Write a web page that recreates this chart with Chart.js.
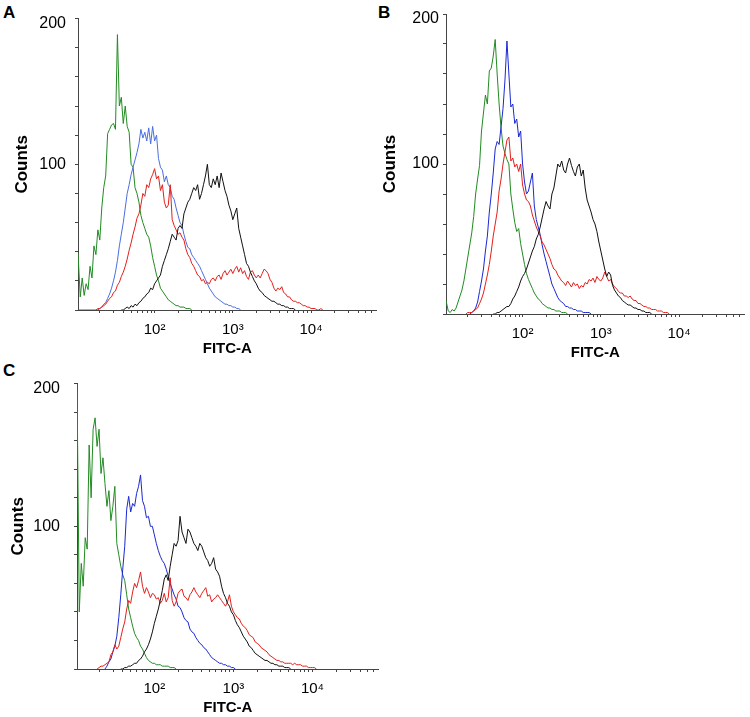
<!DOCTYPE html>
<html lang="en">
<head>
<meta charset="UTF-8">
<title>FITC-A histograms</title>
<script src="https://cdn.jsdelivr.net/npm/chart.js"></script>
<style>
  body { margin: 0; background: #fff; width: 750px; height: 717px; position: relative; overflow: hidden;
         font-family: "Liberation Sans", Arial, sans-serif; }
  canvas { position: absolute; }
  .tag { position: absolute; font-weight: bold; font-size: 17px; line-height: 17px; color: #000; }
</style>
</head>
<body>
<div class="tag" style="left:3px;top:4px">A</div>
<div class="tag" style="left:378px;top:4px">B</div>
<div class="tag" style="left:3px;top:362px">C</div>
<canvas id="panelA" width="380" height="358" style="left:0;top:0"></canvas>
<canvas id="panelB" width="380" height="362" style="left:368px;top:0"></canvas>
<canvas id="panelC" width="382" height="357" style="left:0;top:360px"></canvas>

<script>
    // FITC-A channel centres, 40 per decade; the first one sits on the axis
    const bins = [10.5,
        11.22, 11.89, 12.59, 13.34, 14.13, 14.96, 15.85, 16.79, 17.78, 18.84, 19.95, 21.13, 22.39,
        23.71, 25.12, 26.61, 28.18, 29.85, 31.62, 33.50, 35.48, 37.58, 39.81, 42.17, 44.67, 47.32,
        50.12, 53.09, 56.23, 59.57, 63.10, 66.83, 70.79, 74.99, 79.43, 84.14, 89.13, 94.41, 100,
        105.9, 112.2, 118.9, 125.9, 133.4, 141.3, 149.6, 158.5, 167.9, 177.8, 188.4, 199.5, 211.3,
        223.9, 237.1, 251.2, 266.1, 281.8, 298.5, 316.2, 335.0, 354.8, 375.8, 398.1, 421.7, 446.7,
        473.2, 501.2, 530.9, 562.3, 595.7, 631.0, 668.3, 707.9, 749.9, 794.3, 841.4, 891.3, 944.1, 1000,
        1059, 1122, 1189, 1259, 1334, 1413, 1496, 1585, 1679, 1778, 1884, 1995, 2113,
        2239, 2371, 2512, 2661, 2818, 2985, 3162, 3350, 3548, 3758, 3981, 4217, 4467,
        4732, 5012, 5309, 5623, 5957, 6310, 6683, 7079, 7499, 7943, 8414, 8913, 9441, 10000,
        10590, 11220, 11890, 12590, 13340, 14130, 14960, 15850, 16790, 17780, 18840, 19950,
        21130, 22390, 23710, 25120];

    const xTicks = [20, 30, 40, 50, 60, 70, 80, 90, 100, 200, 300, 400, 500, 600, 700, 800, 900,
        1000, 2000, 3000, 4000, 5000, 6000, 7000, 8000, 9000, 10000, 20000, 30000, 40000, 50000, 60000];
    const xLabels = { 100: '10²', 1000: '10³', 10000: '10⁴' };
    const yTicks = [0, 20, 40, 60, 80, 100, 120, 140, 160, 180, 200];

    // panel A counts per channel (null = no events recorded there)
    const aGreen = [
        39, 9, 22, 10, 18, 14, 30, 22, 44, 38,
        55, 48, 70, 84, 92, 121, 124, 127, 128, 124,
        189, 140, 146, 128, 140, 126, 122, 100, 98, 84,
        80, 74, 65, 60, 56, 52, 50, 44, 36, 30,
        24, 20, 15, 13, 11, 9, 7, 6, 5, 4,
        3, 3, 2, 2, 2, 1, 1, 1, 0];
    const aBlue = [...Array(9).fill(null),
        0, 0, 1, 2, 4, 5, 8, 11, 15, 20, 26,
        34, 44, 52, 60, 70, 80, 86, 93, 98, 103,
        108, 114, 124, 118, 122, 116, 125, 114, 126, 116,
        120, 104, 98, 96, 88, 92, 86, 84, 78, 76,
        70, 65, 60, 58, 52, 47, 43, 42, 38, 36,
        34, 32, 30, 27, 24, 21, 18, 15, 13, 11,
        9, 8, 7, 6, 5, 4, 4, 3, 3, 2,
        2, 1, 1, 0];
    const aRed = [
        0, 0, 0, 0, 0, 0, 0, 0, 0, 0,
        1, 1, 2, 3, 4, 6, 8, 9, 12, 13,
        17, 19, 23, 26, 30, 35, 41, 46, 52, 57,
        63, 66, 72, 80, 78, 86, 84, 90, 93, 97,
        90, 92, 82, 86, 74, 70, 72, 86, 62, 58,
        55, 52, 53, 50, 48, 42, 38, 36, 32, 30,
        27, 24, 23, 20, 21, 18, 19, 18, 21, 22,
        20, 23, 24, 21, 25, 27, 24, 26, 28, 25,
        28, 30, 26, 29, 25, 27, 23, 21, 26, 27,
        24, 22, 24, 22, 25, 28, 27, 25, 21, 19,
        15, 13, 15, 14, 16, 12, 11, 9, 9, 7,
        6, 6, 5, 5, 4, 3, 3, 2, 2, 1,
        1, 1, 0, 0, 1, 0];
    const aBlack = [...Array(22).fill(null),
        0, 0, 1, 2, 1, 3, 2, 4,
        3, 5, 6, 8, 9, 11, 12, 15, 14, 18,
        20, 22, 24, 30, 34, 38, 42, 47, 52, 50,
        48, 56, 58, 56, 66, 70, 74, 76, 80, 84,
        82, 86, 76, 80, 86, 92, 100, 86, 84, 90,
        86, 92, 84, 94, 88, 82, 78, 72, 68, 62,
        66, 70, 56, 50, 44, 38, 32, 30, 26, 23,
        20, 18, 15, 13, 12, 10, 9, 8, 7, 6,
        6, 5, 4, 4, 3, 3, 2, 2, 1, 1,
        1, 0];

    // panel B counts
    const bGreen = [
        9, 2, 1, 3, 2, 4, 8, 12, 16, 22,
        30, 38, 46, 54, 65, 80, 90, 99, 122, 134,
        146, 140, 162, 164, 172, 183, 160, 140, 124, 112,
        107, 103, 100, 80, 70, 61, 55, 57, 47, 40,
        33, 27, 23, 20, 17, 14, 12, 10, 9, 7,
        6, 5, 4, 4, 3, 3, 2, 2, 2, 1,
        1, 1, 0];
    const bBlue = [...Array(12).fill(null),
        0, 1, 2, 4, 8, 15, 22, 30,
        42, 52, 68, 80, 94, 110, 115, 113, 125, 137,
        156, 182, 160, 138, 140, 127, 130, 118, 122, 100,
        88, 80, 82, 88, 94, 72, 63, 58, 53, 46,
        40, 35, 30, 25, 20, 17, 14, 11, 9, 8,
        7, 5, 5, 4, 4, 3, 3, 2, 2, 2,
        1, 1, 1, 1, 0];
    const bRed = [...Array(10).fill(null),
        0, 1, 1, 1, 2, 3, 4, 7, 10, 14,
        20, 26, 33, 42, 52, 60, 68, 82, 90, 100,
        108, 116, 118, 102, 104, 98, 100, 95, 100, 86,
        80, 76, 75, 72, 66, 62, 58, 55, 52, 48,
        46, 43, 40, 37, 33, 30, 29, 26, 24, 22,
        21, 19, 22, 20, 18, 21, 19, 20, 17, 19,
        18, 21, 20, 23, 22, 24, 21, 25, 23, 22,
        24, 28, 25, 22, 23, 20, 18, 17, 15, 14,
        14, 12, 12, 11, 12, 10, 9, 9, 7, 7,
        6, 5, 5, 4, 4, 3, 3, 3, 2, 2,
        2, 1, 1, 1, 0];
    const bBlack = [...Array(24).fill(null),
        0, 0, 1, 1, 2, 3,
        4, 5, 5, 7, 10, 12, 15, 18, 22, 25,
        27, 30, 34, 38, 42, 45, 50, 53, 58, 64,
        70, 75, 72, 70, 80, 84, 92, 100, 98, 102,
        96, 94, 100, 104, 99, 95, 92, 98, 100, 92,
        96, 84, 76, 72, 68, 63, 60, 55, 48, 42,
        36, 30, 25, 28, 26, 19, 16, 14, 12, 11,
        9, 8, 7, 6, 6, 5, 4, 4, 3, 3,
        2, 2, 1, 1, 1, 0];

    // panel C counts (first channel is off scale)
    const cGreen = [
        200, 40, 74, 58, 92, 84, 157, 120, 168, 176,
        156, 168, 137, 148, 130, 114, 125, 104, 114, 128,
        88, 80, 72, 66, 62, 52, 42, 36, 30, 25,
        22, 20, 16, 14, 11, 8, 6, 5, 4, 4,
        3, 3, 3, 2, 2, 2, 2, 1, 1, 1,
        0];
    const cBlue = [...Array(14).fill(null),
        0, 2, 5, 7, 12, 16,
        23, 36, 52, 70, 86, 112, 121, 110, 116, 114,
        123, 128, 136, 118, 114, 106, 107, 100, 100, 94,
        88, 83, 79, 76, 74, 70, 65, 60, 56, 52,
        49, 44, 43, 40, 36, 34, 33, 28, 26, 25,
        22, 20, 18, 17, 15, 14, 12, 10, 8, 7,
        6, 5, 4, 4, 3, 3, 2, 2, 1, 1,
        0];
    const cRed = [...Array(10).fill(null),
        0, 1, 2, 2, 3, 4, 5, 10, 12, 17,
        14, 16, 22, 28, 33, 42, 48, 46, 54, 60,
        57, 62, 68, 58, 53, 57, 54, 50, 53, 52,
        49, 50, 46, 48, 53, 47, 50, 64, 48, 44,
        47, 53, 55, 56, 51, 50, 48, 52, 54, 57,
        54, 52, 50, 53, 55, 57, 51, 52, 47, 49,
        50, 52, 50, 48, 46, 44, 47, 52, 44, 40,
        38, 36, 35, 32, 30, 29, 27, 24, 23, 22,
        19, 18, 17, 15, 14, 13, 12, 10, 9, 8,
        7, 6, 6, 5, 5, 4, 4, 4, 4, 3,
        4, 3, 3, 3, 2, 2, 2, 1, 1, 1,
        1, 0];
    const cBlack = [...Array(22).fill(null),
        0, 0, 1, 1, 2, 2, 3, 4,
        4, 6, 7, 9, 12, 14, 17, 21, 26, 32,
        37, 42, 48, 55, 63, 66, 62, 72, 80, 88,
        86, 90, 107, 96, 92, 88, 98, 96, 92, 88,
        86, 83, 88, 86, 82, 78, 76, 72, 74, 78,
        70, 68, 65, 58, 53, 50, 46, 44, 40, 38,
        34, 31, 29, 26, 23, 21, 19, 16, 15, 13,
        11, 10, 9, 8, 7, 6, 6, 5, 4, 4,
        3, 3, 2, 2, 2, 1, 1, 1, 0];

    Chart.defaults.font.family = '"Liberation Sans", Arial, sans-serif';
    Chart.defaults.color = '#000';

    const axisColor = '#444';

    function toPoints(counts) {
        return counts.map((c, i) => ({ x: bins[i], y: c }));
    }

    function drawPanel(id, lines, p) {
        new Chart(document.getElementById(id), {
            type: 'line',
            data: {
                datasets: lines.map(l => ({
                    data: toPoints(l.counts),
                    borderColor: l.color,
                    borderWidth: 1,
                    pointRadius: 0,
                    tension: 0
                }))
            },
            options: {
                responsive: false,
                animation: false,
                devicePixelRatio: 1,
                events: [],
                layout: { padding: { top: p.top, right: 3, left: 0, bottom: 0 } },
                plugins: { legend: { display: false }, tooltip: { enabled: false } },
                scales: {
                    x: {
                        type: 'logarithmic',
                        min: 10.5,
                        max: 69000,
                        afterBuildTicks: s => { s.ticks = xTicks.map(v => ({ value: v })); },
                        afterFit: s => { s.height = 48; },
                        border: { color: axisColor, width: 1 },
                        grid: { drawOnChartArea: false, tickLength: 3, color: axisColor },
                        ticks: {
                            autoSkip: false,
                            maxRotation: 0,
                            padding: 8,
                            font: { size: 15 },
                            callback: v => xLabels[v] || ''
                        },
                        title: {
                            display: true,
                            text: 'FITC-A',
                            font: { size: 15, weight: 'bold' },
                            padding: { top: 0, bottom: 0 }
                        }
                    },
                    y: {
                        min: 0,
                        max: 200,
                        afterBuildTicks: s => { s.ticks = yTicks.map(v => ({ value: v })); },
                        afterFit: s => { s.width = p.yWidth; },
                        border: { color: axisColor, width: 1 },
                        grid: { drawOnChartArea: false, tickLength: 3, color: axisColor },
                        ticks: {
                            autoSkip: false,
                            padding: p.labelPad,
                            font: { size: 16, lineHeight: 0.6 },
                            // the 200 label sits a little below its tick in the original
                            callback: v => v === 200 ? ['', '200'] : (v === 100 ? '100' : '')
                        },
                        title: {
                            display: true,
                            text: 'Counts',
                            font: { size: 17, weight: 'bold' },
                            padding: { top: p.titlePad, bottom: 0 }
                        }
                    }
                }
            }
        });
    }

    drawPanel('panelA', [
        { counts: aBlack, color: '#111111' },
        { counts: aRed, color: '#e3201c' },
        { counts: aBlue, color: '#4a6ee0' },
        { counts: aGreen, color: '#228b22' }
    ], { top: 14, yWidth: 78, labelPad: 9, titlePad: 12 });

    drawPanel('panelB', [
        { counts: bBlack, color: '#111111' },
        { counts: bRed, color: '#e3201c' },
        { counts: bBlue, color: '#1a28d2' },
        { counts: bGreen, color: '#228b22' }
    ], { top: 14, yWidth: 78, labelPad: 4, titlePad: 12 });

    drawPanel('panelC', [
        { counts: cBlack, color: '#111111' },
        { counts: cRed, color: '#e3201c' },
        { counts: cBlue, color: '#1a28d2' },
        { counts: cGreen, color: '#228b22' }
    ], { top: 13, yWidth: 77, labelPad: 14, titlePad: 8 });
</script>
</body>
</html>
